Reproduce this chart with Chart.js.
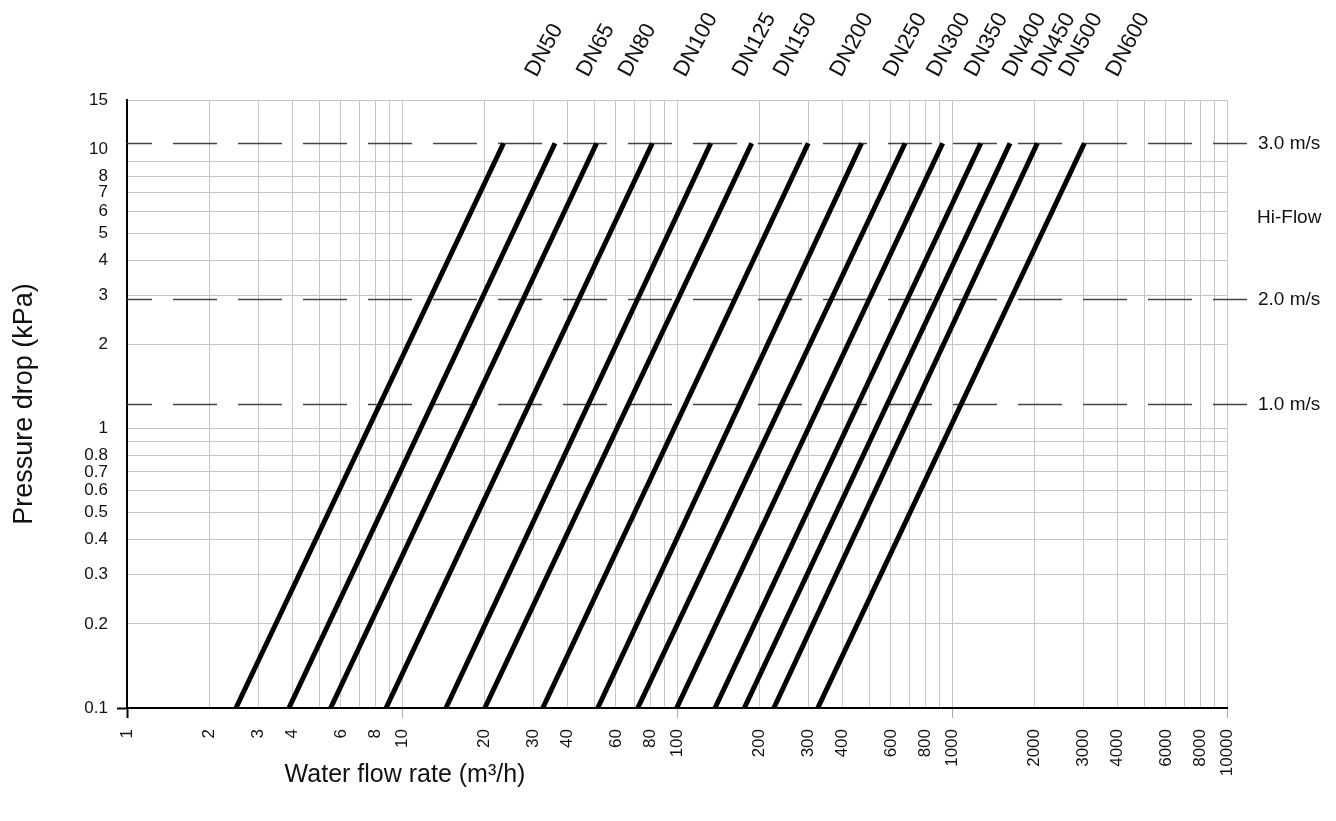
<!DOCTYPE html>
<html>
<head>
<meta charset="utf-8">
<script src="https://cdn.jsdelivr.net/npm/chart.js@4.4.0/dist/chart.umd.min.js"></script>
<style>
    html, body { margin: 0; padding: 0; background: #fff; }
    #wrap { width: 1336px; height: 821px; position: relative; }
</style>
</head>
<body>
<div id="wrap"><canvas id="chart"></canvas></div>
<script>
// Pipe sizes and flow rate (m3/h) where each line meets 0.1 kPa and the 3.0 m/s line
const dnLabels = ['DN50', 'DN65', 'DN80', 'DN100', 'DN125', 'DN150', 'DN200', 'DN250', 'DN300', 'DN350', 'DN400', 'DN450', 'DN500', 'DN600'];
const flowAtLow = [2.49, 3.88, 5.5, 8.75, 14.45, 20.0, 32.5, 51.5, 72, 99.7, 137.5, 175.7, 225, 325];
const flowAtHigh = [23.4, 36.0, 51.0, 81.3, 132.6, 186.9, 300, 469, 675, 925, 1272, 1625, 2043, 3028];
const pressureRange = [0.1, 10.5];

// Velocity reference lines (kPa) and their labels
const velocityLabels = ['3.0 m/s', '2.0 m/s', '1.0 m/s'];
const velocityDrops = [10.5, 2.9, 1.22];
const hiFlowLabel = 'Hi-Flow';
const hiFlowDrop = 5.7;

// Axis grid values and the ones that get a label
const xGridValues = [1, 2, 3, 4, 5, 6, 7, 8, 9, 10, 20, 30, 40, 50, 60, 70, 80, 90, 100, 200, 300, 400, 500, 600, 700, 800, 900,
    1000, 2000, 3000, 4000, 5000, 6000, 7000, 8000, 9000, 10000];
const xTickLabels = [1, 2, 3, 4, 6, 8, 10, 20, 30, 40, 60, 80, 100, 200, 300, 400, 600, 800, 1000, 2000, 3000, 4000, 6000, 8000, 10000];
const xMajor = [1, 10, 100, 1000, 10000];
const yGridValues = [0.1, 0.2, 0.3, 0.4, 0.5, 0.6, 0.7, 0.8, 0.9, 1, 2, 3, 4, 5, 6, 7, 8, 9, 10, 15];
const yTickLabels = [0.1, 0.2, 0.3, 0.4, 0.5, 0.6, 0.7, 0.8, 1, 2, 3, 4, 5, 6, 7, 8, 10, 15];

const FONT = "'Liberation Sans', Arial, sans-serif";

// dashed velocity lines, right-hand labels, DN labels and the x title
const annotations = {
    id: 'annotations',
    beforeDatasetsDraw(chart) {
        const { ctx, chartArea, scales } = chart;
        ctx.save();
        ctx.strokeStyle = '#444';
        ctx.lineWidth = 1.5;
        ctx.setLineDash([44, 21]);
        ctx.lineDashOffset = 19;
        velocityDrops.forEach(v => {
            const y = Math.round(scales.y.getPixelForValue(v)) + 0.5;
            ctx.beginPath();
            ctx.moveTo(chartArea.left, y);
            ctx.lineTo(chartArea.right + 20, y);
            ctx.stroke();
        });
        ctx.restore();
    },
    afterDatasetsDraw(chart) {
        const { ctx, chartArea, scales } = chart;
        ctx.save();
        ctx.fillStyle = '#111';
        ctx.font = '19px ' + FONT;
        ctx.textAlign = 'left';
        ctx.textBaseline = 'middle';
        velocityDrops.forEach((v, i) => {
            ctx.fillText(velocityLabels[i], chartArea.right + 31, scales.y.getPixelForValue(v));
        });
        ctx.fillText(hiFlowLabel, chartArea.right + 30, scales.y.getPixelForValue(hiFlowDrop));

        // DN labels above the top end of each line
        ctx.font = '22px ' + FONT;
        ctx.textBaseline = 'alphabetic';
        chart.data.datasets.forEach((ds, i) => {
            const pts = chart.getDatasetMeta(i).data;
            const x = pts[pts.length - 1].x;
            ctx.save();
            ctx.translate(x + 33, 78);
            ctx.rotate(-62 * Math.PI / 180);
            ctx.fillText(ds.label, 0, 0);
            ctx.restore();
        });

        // x axis title sits left of centre in the original
        ctx.font = '25px ' + FONT;
        ctx.textAlign = 'center';
        ctx.textBaseline = 'middle';
        ctx.fillText('Water flow rate (m³/h)', chartArea.left + 278, 775);
        ctx.restore();
    }
};

const ctx = document.getElementById('chart').getContext('2d');
new Chart(ctx, {
    type: 'line',
    data: {
        datasets: dnLabels.map((name, i) => ({
            label: name,
            data: [
                { x: flowAtLow[i], y: pressureRange[0] },
                { x: flowAtHigh[i], y: pressureRange[1] }
            ],
            borderColor: '#000',
            borderWidth: 5,
            borderCapStyle: 'butt',
            pointRadius: 0,
            fill: false,
            tension: 0
        }))
    },
    options: {
        responsive: true,
        maintainAspectRatio: false,
        animation: false,
        layout: { padding: { top: 100, right: 109, left: 0, bottom: 0 } },
        plugins: {
            legend: { display: false },
            tooltip: { enabled: false }
        },
        scales: {
            x: {
                type: 'logarithmic',
                min: 1,
                max: 10000,
                afterBuildTicks: scale => { scale.ticks = xGridValues.map(v => ({ value: v })); },
                afterFit: scale => { scale.height = 113; },
                ticks: {
                    autoSkip: false,
                    minRotation: 90,
                    maxRotation: 90,
                    padding: 11,
                    color: '#111',
                    font: { family: FONT, size: 17 },
                    callback: v => xTickLabels.includes(v) ? String(v) : ''
                },
                grid: {
                    color: '#c6c6c6',
                    lineWidth: 1,
                    tickLength: 10,
                    tickColor: c => c.tick.value === 1 ? '#000' : (xMajor.includes(c.tick.value) ? '#aaa' : 'rgba(0,0,0,0)'),
                    tickWidth: c => c.tick.value === 1 ? 2 : 1
                },
                border: { color: '#000', width: 2 }
            },
            y: {
                type: 'logarithmic',
                min: 0.1,
                max: 15,
                afterBuildTicks: scale => { scale.ticks = yGridValues.map(v => ({ value: v })); },
                afterFit: scale => { scale.width = 127; },
                ticks: {
                    autoSkip: false,
                    padding: 9,
                    color: '#111',
                    font: { family: FONT, size: 17 },
                    callback: v => yTickLabels.includes(v) ? String(v) : ''
                },
                grid: {
                    color: c => c.tick.value === 10 ? 'rgba(0,0,0,0)' : '#c6c6c6',
                    lineWidth: 1,
                    tickLength: 10,
                    tickColor: c => c.tick.value === 0.1 ? '#000' : 'rgba(0,0,0,0)',
                    tickWidth: 2
                },
                border: { color: '#000', width: 2 },
                title: {
                    display: true,
                    text: 'Pressure drop (kPa)',
                    color: '#111',
                    font: { family: FONT, size: 27 },
                    padding: { top: 8, bottom: 0 }
                }
            }
        }
    },
    plugins: [annotations]
});
</script>
</body>
</html>
